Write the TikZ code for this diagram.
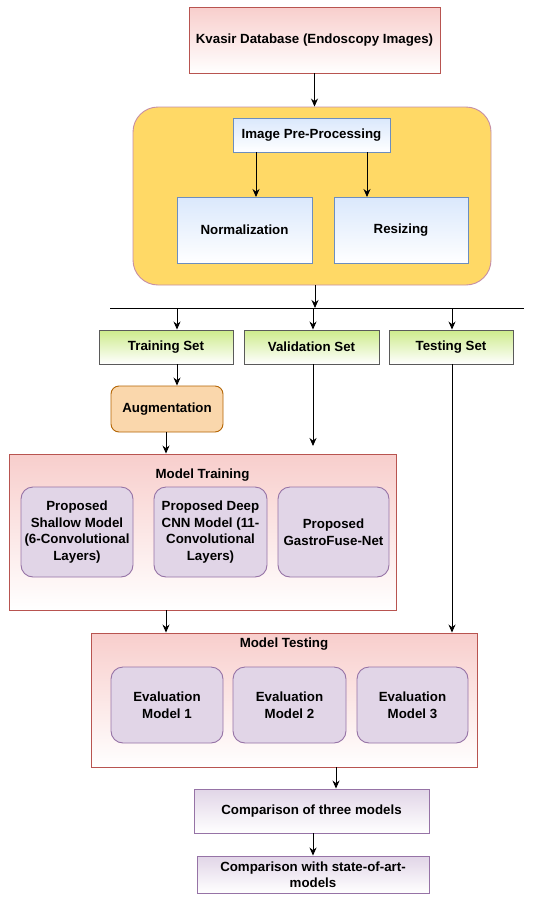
\documentclass[tikz,border=0pt]{standalone}
\usepackage{fontspec}
\setmainfont{Liberation Sans}
\usetikzlibrary{arrows.meta}
\definecolor{pinkF}{HTML}{F8CECC}
\definecolor{pinkD}{HTML}{B85450}
\definecolor{blueF}{HTML}{DAE8FC}
\definecolor{blueD}{HTML}{6C8EBF}
\definecolor{yellF}{HTML}{FFD966}
\definecolor{yellD}{HTML}{C68FA5}
\definecolor{greenF}{HTML}{CDEB8B}
\definecolor{greenD}{HTML}{5A5A5A}
\definecolor{orF}{HTML}{FAD7AC}
\definecolor{orD}{HTML}{B46504}
\definecolor{purF}{HTML}{E1D5E7}
\definecolor{purD}{HTML}{9673A6}
\tikzset{
  base/.style={font=\fontsize{13.3}{16.5}\selectfont\bfseries, align=center, inner sep=2pt, line width=0.9pt},
  pinkbox/.style={base, draw=pinkD, top color=pinkF, bottom color=white},
  bluebox/.style={base, draw=blueD, top color=blueF, bottom color=white},
  greenbox/.style={base, draw=greenD, top color=greenF, bottom color=white},
  orbox/.style={base, draw=orD, fill=orF, rounded corners=8pt},
  purround/.style={base, draw=purD, fill=purF, rounded corners=12pt},
  purbox/.style={base, draw=purD, top color=purF, bottom color=white},
  yellbox/.style={base, draw=yellD, fill=yellF, rounded corners=25pt},
  lbl/.style={font=\fontsize{13.3}{16.5}\selectfont\bfseries, inner sep=0pt},
  arr/.style={line width=0.9pt, -{Stealth[length=8pt,width=7pt]}},
  ln/.style={line width=0.9pt}
}
\begin{document}
\begin{tikzpicture}[x=1pt,y=-1pt]
\useasboundingbox (0,0) rectangle (540,908);
\fill[white] (0,0) rectangle (540,908);
% top
\node[pinkbox, minimum width=251pt, minimum height=66pt] (kvasir) at (314.5,40) {Kvasir Database (Endoscopy Images)};
\node[yellbox, minimum width=358pt, minimum height=178pt] (pre) at (312,196) {};
\node[bluebox, minimum width=157pt, minimum height=34pt] (ipp) at (311.5,135) {Image Pre-Processing};
\node[bluebox, minimum width=135pt, minimum height=66pt] (norm) at (244.5,230) {Normalization};
\node[bluebox, minimum width=134pt, minimum height=66pt] (resz) at (401,230) {Resizing};
\draw[arr] (kvasir.south) -- (kvasir.south |- pre.north);
\draw[arr] (256,152) -- (256,197);
\draw[arr] (367,152) -- (367,197);
% split line
\coordinate (hl) at (110,308);
\coordinate (hr) at (524,308);
\coordinate (hm) at (315,308);
\draw[ln] (hl) -- (hr);
\draw[arr] (pre.south -| hm) -- (hm);
% sets
\node[greenbox, minimum width=134pt, minimum height=34pt] (train) at (166,347) {Training Set};
\node[greenbox, minimum width=135pt, minimum height=34pt] (val) at (311.5,347) {Validation Set};
\node[greenbox, minimum width=124pt, minimum height=34pt] (test) at (451,347) {Testing Set};
\coordinate (t1) at (177,308);
\coordinate (t2) at (313,308);
\coordinate (t3) at (452,308);
\draw[arr] (t1) -- (t1 |- train.north);
\draw[arr] (t2) -- (t2 |- val.north);
\draw[arr] (t3) -- (t3 |- test.north);
\node[orbox, minimum width=112pt, minimum height=46pt] (aug) at (167,409) {Augmentation};
\draw[arr] (t1 |- train.south) -- (t1 |- aug.north);
% model training
\node[pinkbox, minimum width=387pt, minimum height=156pt] (mtrain) at (202.5,532) {};
\node[lbl] (mtrainlbl) at (202.5,475) {Model Training};
\node[purround, minimum width=112pt, minimum height=90pt] (shallow) at (77,532) {Proposed\\Shallow Model\\(6-Convolutional\\Layers)};
\node[purround, minimum width=113pt, minimum height=90pt] (deep) at (210.5,532) {Proposed Deep\\CNN Model (11-\\Convolutional\\Layers)};
\node[purround, minimum width=111pt, minimum height=90pt] (gastro) at (333.5,532) {Proposed\\GastroFuse-Net};
\coordinate (a1) at (166,432);
\draw[arr] (a1) -- (a1 |- mtrain.north);
\coordinate (valend) at (313,446);
\draw[arr] (t2 |- val.south) -- (valend);
% model testing
\node[pinkbox, minimum width=386pt, minimum height=134pt] (mtest) at (284,700) {};
\node[lbl] (mtestlbl) at (284,644) {Model Testing};
\node[purround, minimum width=112pt, minimum height=76pt] (ev1) at (167,705) {Evaluation\\Model 1};
\node[purround, minimum width=113pt, minimum height=76pt] (ev2) at (289.5,705) {Evaluation\\Model 2};
\node[purround, minimum width=111pt, minimum height=76pt] (ev3) at (412.5,705) {Evaluation\\Model 3};
\coordinate (m1) at (166,610);
\draw[arr] (m1) -- (m1 |- mtest.north);
\draw[arr] (t3 |- test.south) -- (t3 |- mtest.north);
% comparisons
\node[purbox, minimum width=235pt, minimum height=44pt] (comp1) at (311.5,811) {Comparison of three models};
\node[purbox, minimum width=232pt, minimum height=37pt] (comp2) at (313,874.5) {Comparison with state-of-art-\\models};
\coordinate (c1) at (336,767);
\draw[arr] (c1) -- (c1 |- comp1.north);
\coordinate (c2) at (313,833);
\draw[arr] (c2) -- (c2 |- comp2.north);
\end{tikzpicture}
\end{document}
